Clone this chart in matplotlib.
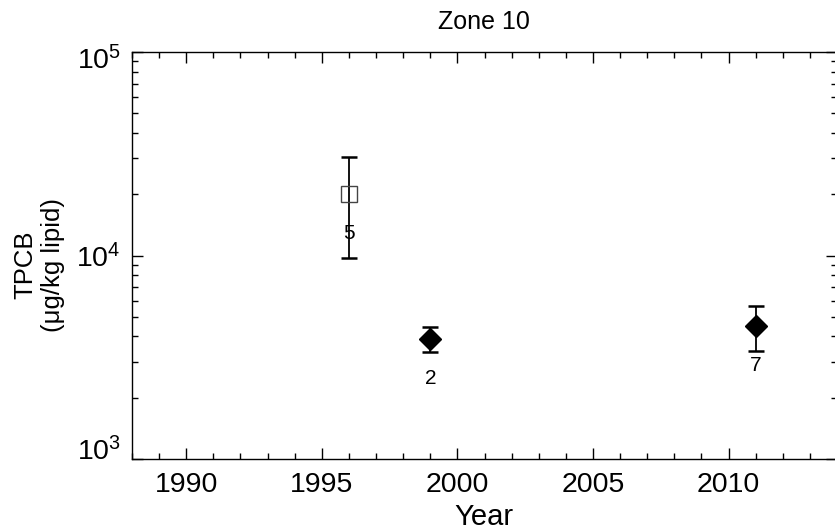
import matplotlib
matplotlib.use("Agg")
import matplotlib.pyplot as plt
from matplotlib.transforms import ScaledTranslation
from matplotlib.ticker import LogLocator, MultipleLocator, LogFormatterSciNotation, NullFormatter

plt.rcParams['font.family'] = ['Liberation Sans', 'DejaVu Sans']
plt.rcParams['mathtext.fontset'] = 'custom'
plt.rcParams['mathtext.rm'] = 'Liberation Sans'
plt.rcParams['mathtext.it'] = 'Liberation Sans:italic'

# Zone 10 TPCB concentrations (geometric means with error bars)
open_years = [1996]
open_values = [20000]
open_err_low = [9750]
open_err_high = [30500]
open_counts = [5]

filled_years = [1999, 2011]
filled_values = [3870, 4490]
filled_err_low = [3350, 3380]
filled_err_high = [4440, 5620]
filled_counts = [2, 7]

fig = plt.figure(figsize=(8.35, 5.32), dpi=100)
W, H = 835, 532
ax = fig.add_axes([132 / W, 1 - 459 / H, (837 - 132) / W, (459 - 52) / H])

def draw(years, vals, lo, hi, marker, ms, face, edge):
    yerr = [[v - l for v, l in zip(vals, lo)], [h - v for v, h in zip(vals, hi)]]
    ax.errorbar(years, vals, yerr=yerr, fmt='none', ecolor='black',
                elinewidth=1.3, capsize=5.5, capthick=1.8, zorder=2)
    ax.plot(years, vals, linestyle='none', marker=marker, markersize=ms,
            markerfacecolor=face, markeredgecolor=edge, markeredgewidth=1.0, zorder=3)

draw(open_years, open_values, open_err_low, open_err_high, 's', 12, 'none', '#444444')
draw(filled_years, filled_values, filled_err_low, filled_err_high, 'D', 11, 'black', 'black')

for yrs, vals, cnts in ((open_years, open_values, open_counts),
                        (filled_years, filled_values, filled_counts)):
    for x, v, n in zip(yrs, vals, cnts):
        ax.annotate(str(n), (x, v), xytext=(0, -28), textcoords='offset points',
                    ha='center', va='center', fontsize=15)

ax.set_yscale('log')
ax.set_ylim(1e3, 1e5)
ax.set_xlim(1988, 2014)

ax.xaxis.set_major_locator(MultipleLocator(5))
ax.xaxis.set_minor_locator(MultipleLocator(1))
ax.yaxis.set_major_locator(LogLocator(base=10))
ax.yaxis.set_minor_locator(LogLocator(base=10, subs=range(2, 10)))
ax.yaxis.set_major_formatter(LogFormatterSciNotation())
ax.yaxis.set_minor_formatter(NullFormatter())

ax.tick_params(which='both', direction='in', top=True, right=True, width=1.0)
ax.tick_params(which='major', length=8, labelsize=20.5, pad=9)
ax.tick_params(axis='y', which='major', pad=8)
ax.tick_params(which='minor', length=4.5)
for s in ax.spines.values():
    s.set_linewidth(1.0)

fig.text(484 / W, 1 - 22 / H, 'Zone 10', ha='center', va='center', fontsize=18)
fig.text(484 / W, 1 - 517 / H, 'Year', ha='center', va='center', fontsize=21)
fig.text(39 / W, 1 - 265 / H, 'TPCB\n(\u03bcg/kg lipid)', rotation=90, ha='center',
         va='center', multialignment='center', fontsize=18.5, linespacing=1.2)

# keep the end labels of the log axis inside the frame
fig.canvas.draw()
for tick in ax.yaxis.get_major_ticks():
    v = tick.get_loc()
    if abs(v - 1e5) < 1:
        dy = -6
    elif abs(v - 1e3) < 1:
        dy = 10
    else:
        continue
    lab = tick.label1
    lab.set_transform(lab.get_transform() + ScaledTranslation(0, dy / 100, fig.dpi_scale_trans))

fig.savefig('out.png', dpi=100)
